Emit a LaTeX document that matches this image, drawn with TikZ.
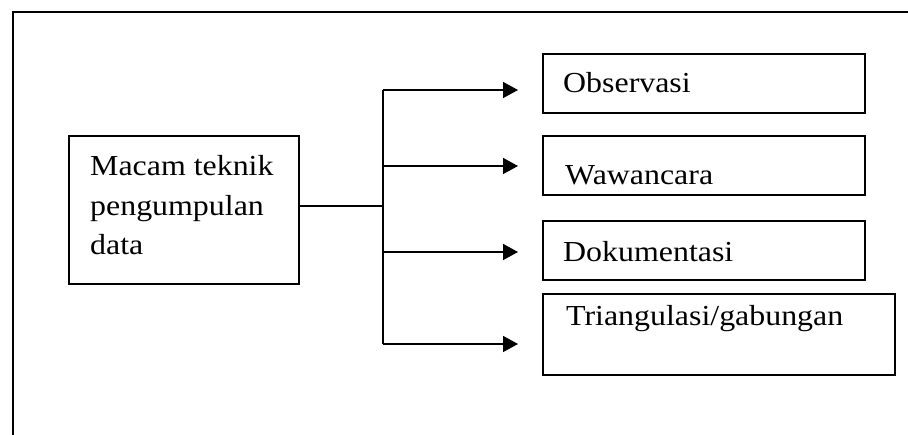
\documentclass[tikz,border=0pt]{standalone}
\usepackage{fontspec}
\setmainfont{Liberation Serif}[FakeStretch=1.1]
\usetikzlibrary{arrows.meta}
\begin{document}
\begin{tikzpicture}[x=1pt,y=-1pt,
  box/.style={draw,line width=1.6pt,inner sep=0pt,rectangle},
  txt/.style={inner sep=0pt,anchor=base west,font=\fontsize{29}{39.5}\selectfont},
  wire/.style={line width=1.6pt},
  arr/.style={wire,-{Triangle[length=15pt,width=16pt]}}]
  \useasboundingbox (0,0) rectangle (908,435);
  % open outer frame
  \draw[line width=2pt] (908,12) -- (13,12) -- (13,435);

  % boxes
  \node[box,minimum width=230pt,minimum height=148pt] (src) at (184,210) {};
  \node[box,minimum width=322pt,minimum height=59pt] (obs) at (704,83.5) {};
  \node[box,minimum width=322pt,minimum height=59pt] (waw) at (704,165.5) {};
  \node[box,minimum width=322pt,minimum height=59pt] (dok) at (704,250.5) {};
  \node[box,minimum width=352pt,minimum height=81pt] (tri) at (719,334.5) {};

  % labels (a multi-line label sits on the baseline of its last line)
  \node[txt,align=left] (srct) at (90,255) {Macam teknik\\pengumpulan\\data};
  \node[txt] (obst) at (563,93) {Observasi};
  \node[txt] (wawt) at (565,185) {Wawancara};
  \node[txt] (dokt) at (563,262) {Dokumentasi};
  \node[txt] (trit) at (566,326) {Triangulasi/gabungan};

  % branching connectors
  \coordinate (j) at (383,206);
  \coordinate (t1) at (383,90);
  \coordinate (t2) at (383,166);
  \coordinate (t3) at (383,252);
  \coordinate (t4) at (383,344);
  \coordinate (a1) at (518,90);
  \coordinate (a2) at (518,166);
  \coordinate (a3) at (518,252);
  \coordinate (a4) at (518,344);
  \draw[wire] (src.east |- j) -- (j);
  \draw[wire] (t1) -- (t4);
  \draw[arr] (t1) -- (a1);
  \draw[arr] (t2) -- (a2);
  \draw[arr] (t3) -- (a3);
  \draw[arr] (t4) -- (a4);
\end{tikzpicture}
\end{document}
